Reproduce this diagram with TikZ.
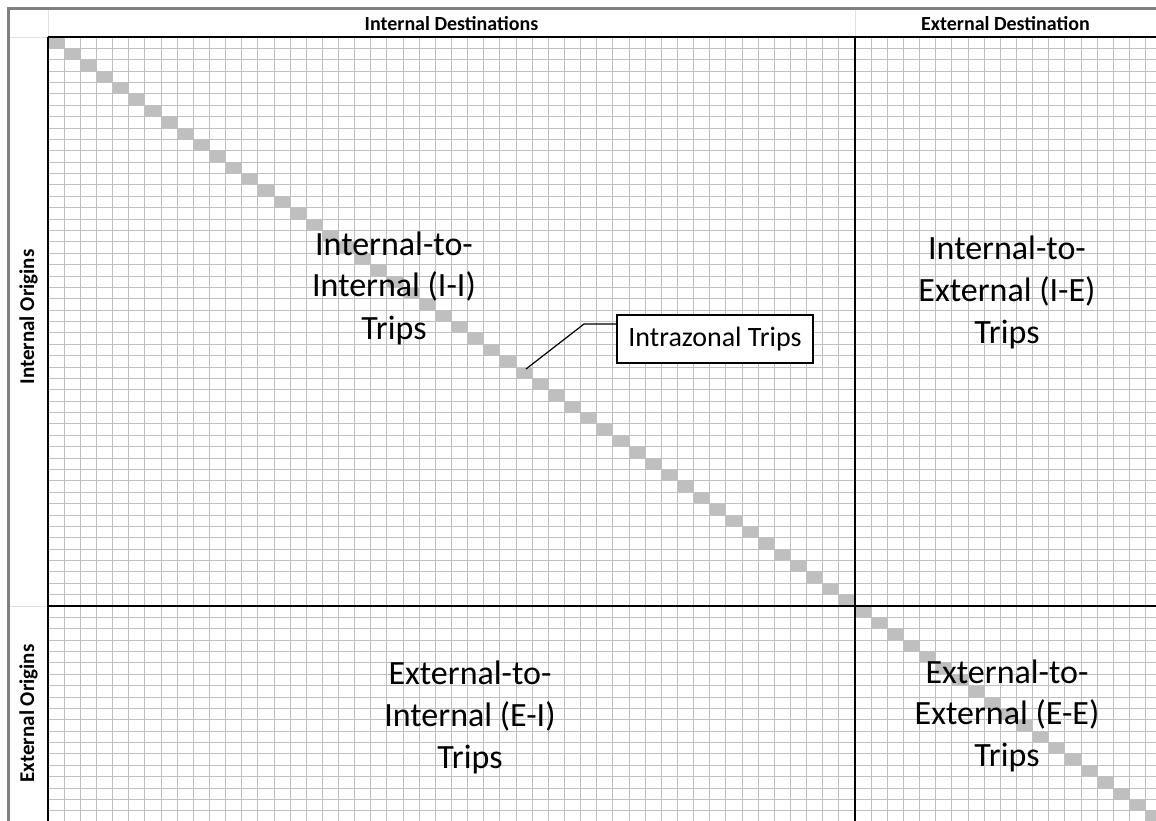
\documentclass[tikz,border=0pt]{standalone}
\usepackage{fontspec}
\setmainfont{Carlito}
\begin{document}
\begin{tikzpicture}[x=1pt,y=-1pt,
  gridline/.style={draw=black!25, line width=0.9pt},
  diag/.style={fill=black!25},
  divider/.style={draw=black, line width=1.5pt},
  frameline/.style={draw=black!50, line width=3pt},
  faint/.style={draw=black!12, line width=0.9pt},
  hdr/.style={font=\bfseries\fontsize{20}{24}\selectfont, anchor=base, inner sep=0pt},
  sidehdr/.style={font=\bfseries\fontsize{21}{25}\selectfont, anchor=base, inner sep=0pt, rotate=90},
  big/.style={font=\fontsize{34}{41}\selectfont, anchor=base, inner sep=0pt},
  callout/.style={draw=black, line width=1.2pt, fill=white, minimum width=196pt,
    minimum height=48pt, inner sep=0pt, font=\fontsize{28}{34}\selectfont},
  leader/.style={draw=black, line width=1.2pt},
]
\useasboundingbox (0,0) rectangle (1156,821);
\clip (0,0) rectangle (1156,821);
\fill[white] (0,0) rectangle (1156,821);
% diagonal (intrazonal) cells
\foreach \k in {0,...,68}
  \fill[diag] ({48+16.14*\k},{37+11.38*\k}) rectangle ++(16.14,11.38);
% grid
\foreach \k in {0,...,69}
  \draw[gridline] ({48+16.14*\k},37) -- ({48+16.14*\k},821);
\foreach \k in {0,...,69}
  \draw[gridline] (48,{37+11.38*\k}) -- (1156,{37+11.38*\k});
% faint header / label-column lines
\draw[faint] (48,9) -- (48,37);
\draw[faint] (855,9) -- (855,37);
\draw[faint] (8,37) -- (48,37);
\draw[faint] (8,606) -- (48,606);
% dividers
\draw[divider] (48,37) -- (1156,37);
\draw[divider] (48,37) -- (48,821);
\draw[divider] (855,37) -- (855,821);
\draw[divider] (48,606) -- (1156,606);
% outer frame
\draw[frameline] (8.5,821) -- (8.5,8.5) -- (1156,8.5);
% headers
\node[hdr] (hid) at (451.5,31) {Internal Destinations};
\node[hdr] (hed) at (1005.5,31) {External Destination};
\node[sidehdr] (io) at (34,317) {Internal Origins};
\node[sidehdr] (eo) at (34,713.5) {External Origins};
% quadrant labels
\node[big] (ii1) at (394,255) {Internal-to-};
\node[big] (ii2) at (394,296) {Internal (I-I)};
\node[big] (ii3) at (394,339) {Trips};
\node[big] (ie1) at (1007,259) {Internal-to-};
\node[big] (ie2) at (1007,301) {External (I-E)};
\node[big] (ie3) at (1007,343) {Trips};
\node[big] (ei1) at (470,684) {External-to-};
\node[big] (ei2) at (470,726) {Internal (E-I)};
\node[big] (ei3) at (470,768) {Trips};
\node[big] (ee1) at (1007,683) {External-to-};
\node[big] (ee2) at (1007,724) {External (E-E)};
\node[big] (ee3) at (1007,766) {Trips};
% callout
\node[callout] (iz) at (715,339) {Intrazonal Trips};
\coordinate (bend) at (584,324);
\coordinate (tip) at (526,369);
\draw[leader] (iz.west |- bend) -- (bend) -- (tip);
\end{tikzpicture}
\end{document}
